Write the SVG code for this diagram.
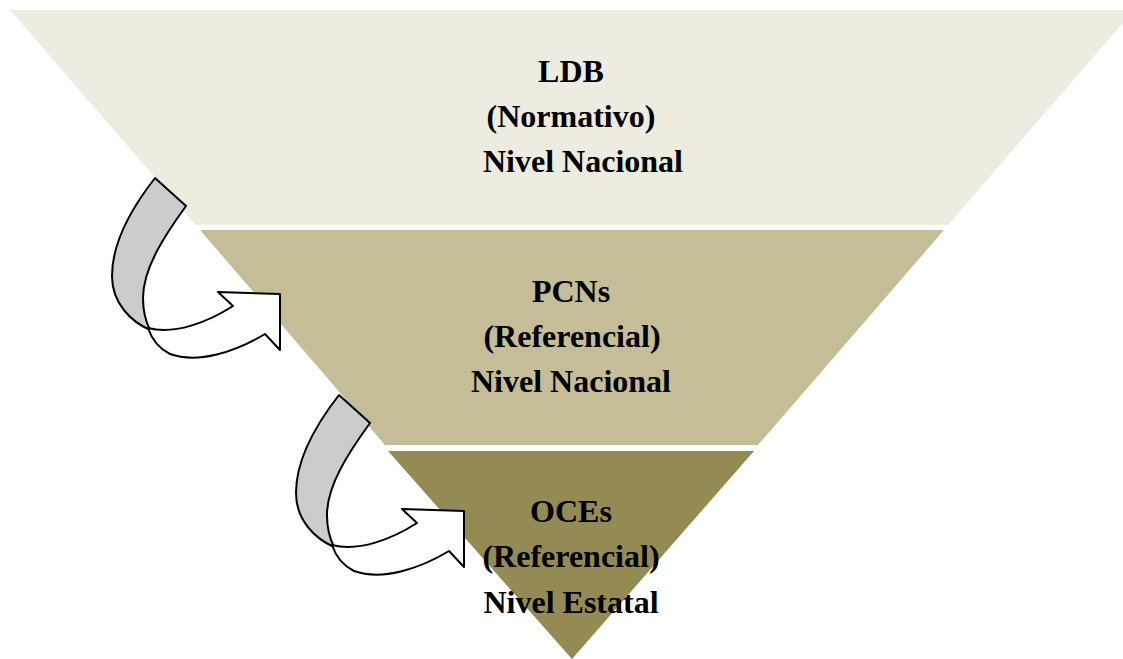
<svg xmlns="http://www.w3.org/2000/svg" xmlns:xlink="http://www.w3.org/1999/xlink" width="1123" height="659" viewBox="0 0 1123 659">
<style>
.lbl{font-family:"Liberation Serif","Times New Roman",serif;font-weight:bold;font-size:32px;fill:#000;text-anchor:middle}
.ln{stroke:#000;stroke-width:2;stroke-linejoin:round}
</style>
<defs>
<g id="curvedArrow">
<path class="ln" fill="#cccccc" d="M155,178 L186,206 C165,235 143,268 143,298 C143,312 146,322 150,330 C132,322 112,304 112,276 C112,245 130,210 155,178 Z"/>
<path class="ln" fill="#ffffff" d="M148,328 C175,335 208,322 233,306 L218,292 L280,294 L280,350 L265,334 C235,352 198,364 170,354 C160,349 152,340 148,328 Z"/>
</g>
</defs>
<rect width="1123" height="659" fill="#ffffff"/>
<g id="ldb">
<polygon points="10,10 1134,10 948,225 196,225" fill="#eeece1"/>
<text class="lbl" x="571" y="82">LDB</text>
<text class="lbl" x="571" y="127">(Normativo)</text>
<text class="lbl" x="583" y="172">Nivel Nacional</text>
</g>
<g id="pcns">
<polygon points="200,230 944,230 758,445 385,445" fill="#c4bd97"/>
<text class="lbl" x="571" y="302">PCNs</text>
<text class="lbl" x="572" y="347">(Referencial)</text>
<text class="lbl" x="571" y="392">Nivel Nacional</text>
</g>
<g id="oces">
<polygon points="388,451 754,451 572,659" fill="#948a54"/>
<text class="lbl" x="571" y="522">OCEs</text>
<text class="lbl" x="571" y="567">(Referencial)</text>
<text class="lbl" x="571" y="613">Nivel Estatal</text>
</g>
<g id="connectors">
<use xlink:href="#curvedArrow"/>
<use xlink:href="#curvedArrow" transform="translate(184,217)"/>
</g>
</svg>
